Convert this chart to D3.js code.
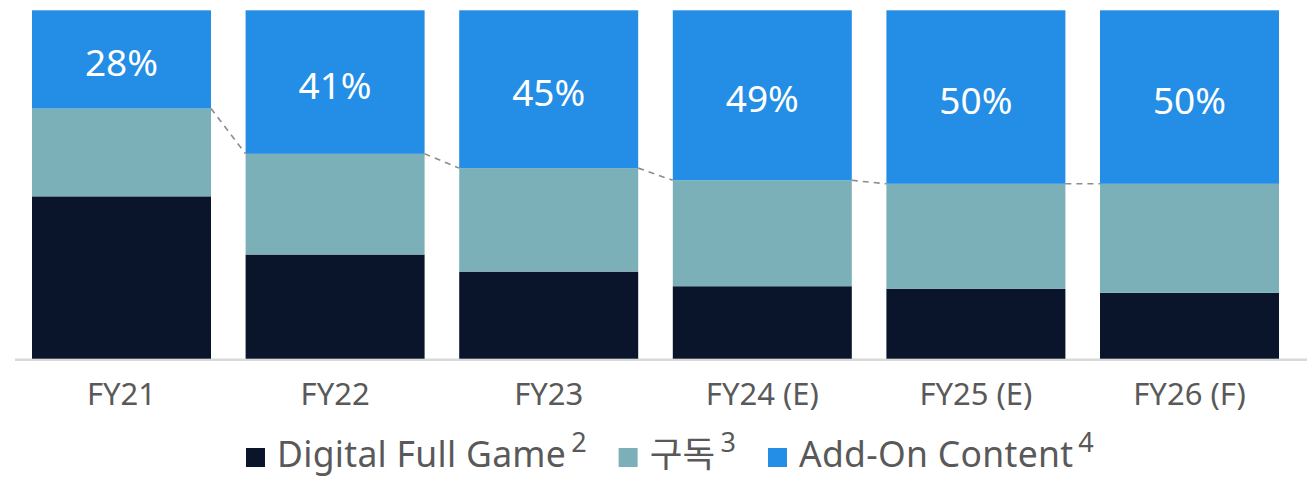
<!DOCTYPE html>
<html>
<head>
<meta charset="utf-8">
<script src="https://cdn.jsdelivr.net/npm/d3@7"></script>
<style>
    body { margin: 0; background: #fff; }
    svg text { font-family: "Noto Sans", "Noto Sans CJK KR", sans-serif; }
</style>
</head>
<body>
<svg id="chart" width="1307" height="478"></svg>
<script>
    // values in percent
    var years = ["FY21", "FY22", "FY23", "FY24 (E)", "FY25 (E)", "FY26 (F)"];
    var fullGame = [46.6, 29.9, 25.0, 20.8, 20.1, 18.9];
    var subscription = [25.2, 28.9, 29.7, 30.4, 30.1, 31.3];
    var addOn = [28.2, 41.2, 45.3, 48.8, 49.8, 49.8];

    var seriesNames = ["Digital Full Game", "구독", "Add-On Content"];
    var footnotes = ["2", "3", "4"];
    var colors = ["#0a142b", "#7cb0b8", "#248ee6"];

    var svg = d3.select("#chart");

    var x = d3.scaleBand()
        .domain(years)
        .range([32, 1279])
        .paddingInner(0.162)
        .paddingOuter(0);

    var y = d3.scaleLinear()
        .domain([0, 100])
        .range([358.7, 10.3]);

    var rows = years.map(function (yr, i) {
        return { year: yr, full: fullGame[i], sub: subscription[i], addon: addOn[i] };
    });

    var stack = d3.stack().keys(["full", "sub", "addon"]);
    var layers = stack(rows);

    // baseline
    svg.append("line")
        .attr("x1", 15).attr("x2", 1307)
        .attr("y1", 359.8).attr("y2", 359.8)
        .attr("stroke", "#d9d9d9")
        .attr("stroke-width", 2.5);

    svg.selectAll("g.layer")
        .data(layers)
        .enter()
        .append("g")
        .attr("class", "layer")
        .attr("fill", function (d, i) { return colors[i]; })
        .selectAll("rect")
        .data(function (d) { return d; })
        .enter()
        .append("rect")
        .attr("x", function (d) { return x(d.data.year); })
        .attr("y", function (d) { return y(d[1]); })
        .attr("width", x.bandwidth())
        .attr("height", function (d) { return y(d[0]) - y(d[1]); });

    // dashed connectors along the top of the subscription segment
    var links = d3.pairs(layers[1]);
    svg.selectAll("line.link")
        .data(links)
        .enter()
        .append("line")
        .attr("class", "link")
        .attr("x1", function (d) { return x(d[0].data.year) + x.bandwidth(); })
        .attr("y1", function (d) { return y(d[0][1]); })
        .attr("x2", function (d) { return x(d[1].data.year); })
        .attr("y2", function (d) { return y(d[1][1]); })
        .attr("stroke", "#8c8c8c")
        .attr("stroke-width", 1.6)
        .attr("stroke-dasharray", "6,5");

    // add-on share labels
    var fmt = d3.format(".0f");
    svg.selectAll("text.pct")
        .data(layers[2])
        .enter()
        .append("text")
        .attr("class", "pct")
        .attr("x", function (d) { return x(d.data.year) + x.bandwidth() / 2; })
        .attr("y", function (d) { return (y(d[0]) + y(d[1])) / 2 + 2; })
        .attr("text-anchor", "middle")
        .attr("dominant-baseline", "central")
        .attr("fill", "#fff")
        .attr("font-size", 37)
        .text(function (d) { return fmt(d.data.addon) + "%"; });

    // category axis
    var axis = svg.append("g")
        .attr("transform", "translate(0,359)")
        .call(d3.axisBottom(x).tickSize(0).tickPadding(46));
    axis.select(".domain").remove();
    axis.selectAll("text")
        .attr("font-size", 31)
        .attr("fill", "#595959")
        .attr("font-family", "Noto Sans, sans-serif")
        .attr("dy", "0");

    // legend
    var legend = svg.append("g").attr("transform", "translate(0,467)");
    var cx = 246;
    seriesNames.forEach(function (name, i) {
        legend.append("rect")
            .attr("x", cx).attr("y", -19)
            .attr("width", 19).attr("height", 19)
            .attr("fill", colors[i]);
        cx += 31;
        var t = legend.append("text")
            .attr("x", cx).attr("y", 0)
            .attr("font-size", 35.5)
            .attr("letter-spacing", 0.3)
            .attr("fill", "#595959")
            .text(name);
        cx += t.node().getComputedTextLength() + 5;
        var s = legend.append("text")
            .attr("x", cx).attr("y", -15)
            .attr("font-size", 27)
            .attr("fill", "#595959")
            .text(footnotes[i]);
        cx += s.node().getComputedTextLength() + 32;
    });
</script>
</body>
</html>
